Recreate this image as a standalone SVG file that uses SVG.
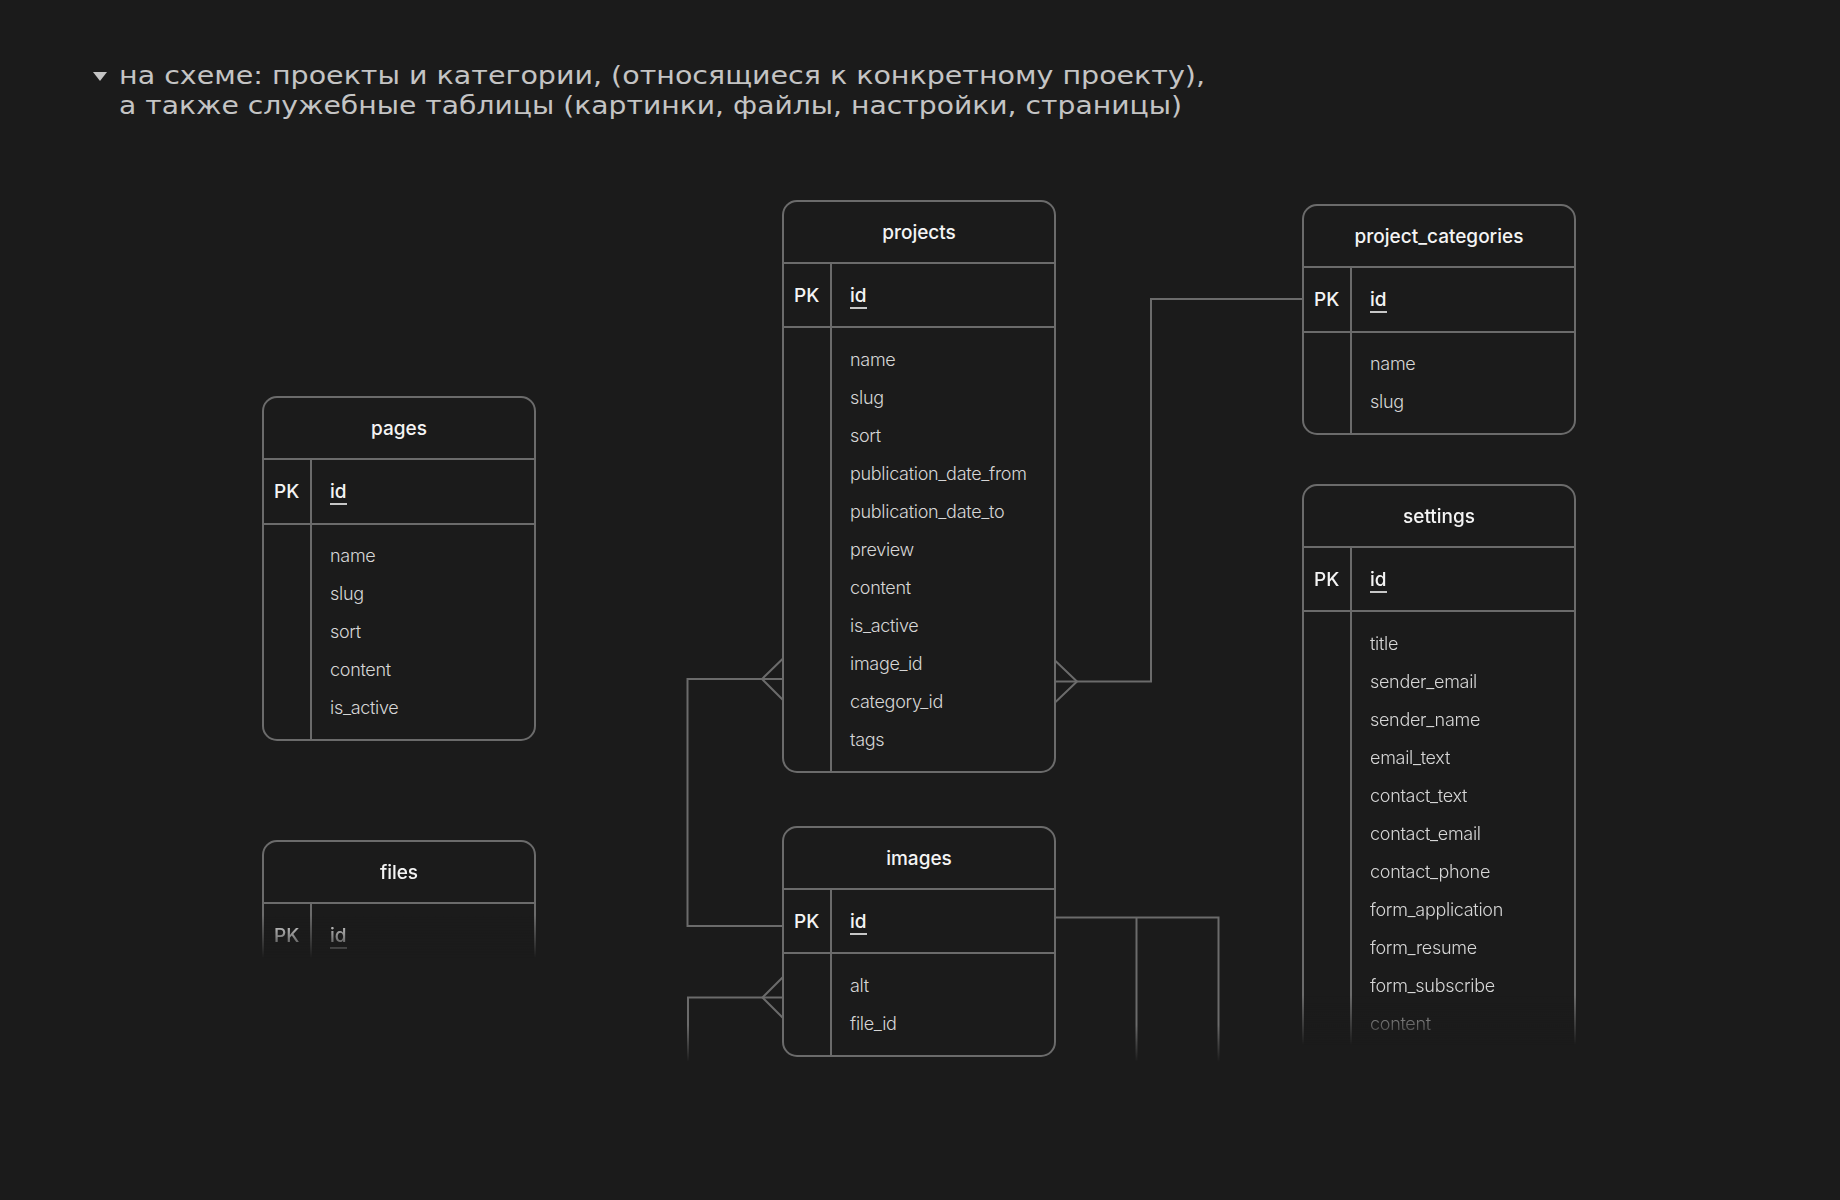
<svg xmlns="http://www.w3.org/2000/svg" width="1840" height="1200" viewBox="0 0 1840 1200">
<defs>
<style>
.box{fill:#1b1b1b;stroke:#6b6b6b;stroke-width:2}
.ln{stroke:#6b6b6b;stroke-width:2;fill:none}
.hd{font-family:Inter,"Noto Sans",sans-serif;font-size:19px;font-weight:500;fill:#f4f4f4;text-anchor:middle}
.pk{font-family:Inter,"Noto Sans",sans-serif;font-size:19px;font-weight:500;fill:#f4f4f4}
.fd{font-family:Inter,"Noto Sans",sans-serif;font-size:18px;font-weight:300;letter-spacing:-0.3px;fill:#d6d6d6}
.ul{stroke:#f4f4f4;stroke-width:1.6}
.title{font-family:"DejaVu Sans","Noto Sans",sans-serif;font-size:25.5px;fill:#c4c4c4}
</style>
<linearGradient id="gFiles" gradientUnits="userSpaceOnUse" x1="0" y1="915" x2="0" y2="958">
<stop offset="0" stop-color="#fff"/><stop offset="1" stop-color="#000"/>
</linearGradient>
<linearGradient id="gSet" gradientUnits="userSpaceOnUse" x1="0" y1="995" x2="0" y2="1045">
<stop offset="0" stop-color="#fff"/><stop offset="1" stop-color="#000"/>
</linearGradient>
<linearGradient id="gCon" gradientUnits="userSpaceOnUse" x1="0" y1="1025" x2="0" y2="1062">
<stop offset="0" stop-color="#fff"/><stop offset="1" stop-color="#000"/>
</linearGradient>
<mask id="mFiles" maskUnits="userSpaceOnUse" x="0" y="0" width="1840" height="1200"><rect x="0" y="0" width="1840" height="1200" fill="url(#gFiles)"/></mask>
<mask id="mSet" maskUnits="userSpaceOnUse" x="0" y="0" width="1840" height="1200"><rect x="0" y="0" width="1840" height="1200" fill="url(#gSet)"/></mask>
<mask id="mCon" maskUnits="userSpaceOnUse" x="0" y="0" width="1840" height="1200"><rect x="0" y="0" width="1840" height="1200" fill="url(#gCon)"/></mask>
</defs>
<rect x="0" y="0" width="1840" height="1200" fill="#1b1b1b"/>

<g id="heading">
<polygon points="93,72 107,72 100,81" fill="#c4c4c4"/>
<text class="title" x="119" y="83.5" textLength="1086" lengthAdjust="spacingAndGlyphs">на схеме: проекты и категории, (относящиеся к конкретному проекту),</text>
<text class="title" x="119" y="113.5" textLength="1063" lengthAdjust="spacingAndGlyphs">а также служебные таблицы (картинки, файлы, настройки, страницы)</text>
</g>

<g id="connectors" mask="url(#mCon)">
<polyline class="ln" points="1055,681.5 1151,681.5 1151,299 1303,299"/>
<polyline class="ln" points="1055,660.5 1077,681.5 1055,702.5"/>
<polyline class="ln" points="783,679 687.5,679 687.5,926 783,926"/>
<polyline class="ln" points="783,658.5 762,679 783,700"/>
<polyline class="ln" points="783,997.5 688,997.5 688,1075"/>
<polyline class="ln" points="783,977 762.5,997.5 783,1018"/>
<polyline class="ln" points="1055,917.5 1218.5,917.5 1218.5,1075"/>
<line class="ln" x1="1136.5" y1="917.5" x2="1136.5" y2="1075"/>
</g>

<g id="pages">
<rect class="box" x="263" y="397" width="272" height="343" rx="14"/>
<line class="ln" x1="263" y1="459" x2="535" y2="459"/>
<line class="ln" x1="263" y1="524" x2="535" y2="524"/>
<line class="ln" x1="311" y1="459" x2="311" y2="740"/>
<text class="hd" x="399" y="435">pages</text>
<text class="pk" x="274" y="498">PK</text>
<text class="pk" x="330" y="498">id</text>
<line class="ul" x1="330" y1="504" x2="347" y2="504"/>
<text class="fd" x="330" y="562">name</text>
<text class="fd" x="330" y="600">slug</text>
<text class="fd" x="330" y="638">sort</text>
<text class="fd" x="330" y="676">content</text>
<text class="fd" x="330" y="714">is_active</text>
</g>

<g id="files" mask="url(#mFiles)">
<rect class="box" x="263" y="841" width="272" height="160" rx="14"/>
<line class="ln" x1="263" y1="903" x2="535" y2="903"/>
<line class="ln" x1="311" y1="903" x2="311" y2="1001"/>
<text class="hd" x="399" y="879">files</text>
<text class="pk" x="274" y="942">PK</text>
<text class="pk" x="330" y="942">id</text>
<line class="ul" x1="330" y1="948" x2="347" y2="948"/>
</g>

<g id="projects">
<rect class="box" x="783" y="201" width="272" height="571" rx="14"/>
<line class="ln" x1="783" y1="263" x2="1055" y2="263"/>
<line class="ln" x1="783" y1="327" x2="1055" y2="327"/>
<line class="ln" x1="831" y1="263" x2="831" y2="772"/>
<text class="hd" x="919" y="239">projects</text>
<text class="pk" x="794" y="302">PK</text>
<text class="pk" x="850" y="302">id</text>
<line class="ul" x1="850" y1="308" x2="867" y2="308"/>
<text class="fd" x="850" y="366">name</text>
<text class="fd" x="850" y="404">slug</text>
<text class="fd" x="850" y="442">sort</text>
<text class="fd" x="850" y="480">publication_date_from</text>
<text class="fd" x="850" y="518">publication_date_to</text>
<text class="fd" x="850" y="556">preview</text>
<text class="fd" x="850" y="594">content</text>
<text class="fd" x="850" y="632">is_active</text>
<text class="fd" x="850" y="670">image_id</text>
<text class="fd" x="850" y="708">category_id</text>
<text class="fd" x="850" y="746">tags</text>
</g>

<g id="project_categories">
<rect class="box" x="1303" y="205" width="272" height="229" rx="14"/>
<line class="ln" x1="1303" y1="267" x2="1575" y2="267"/>
<line class="ln" x1="1303" y1="332" x2="1575" y2="332"/>
<line class="ln" x1="1351" y1="267" x2="1351" y2="434"/>
<text class="hd" x="1439" y="243">project_categories</text>
<text class="pk" x="1314" y="306">PK</text>
<text class="pk" x="1370" y="306">id</text>
<line class="ul" x1="1370" y1="312" x2="1387" y2="312"/>
<text class="fd" x="1370" y="370">name</text>
<text class="fd" x="1370" y="408">slug</text>
</g>

<g id="settings" mask="url(#mSet)">
<rect class="box" x="1303" y="485" width="272" height="600" rx="14"/>
<line class="ln" x1="1303" y1="547" x2="1575" y2="547"/>
<line class="ln" x1="1303" y1="611" x2="1575" y2="611"/>
<line class="ln" x1="1351" y1="547" x2="1351" y2="1085"/>
<text class="hd" x="1439" y="523">settings</text>
<text class="pk" x="1314" y="586">PK</text>
<text class="pk" x="1370" y="586">id</text>
<line class="ul" x1="1370" y1="592" x2="1387" y2="592"/>
<text class="fd" x="1370" y="650">title</text>
<text class="fd" x="1370" y="688">sender_email</text>
<text class="fd" x="1370" y="726">sender_name</text>
<text class="fd" x="1370" y="764">email_text</text>
<text class="fd" x="1370" y="802">contact_text</text>
<text class="fd" x="1370" y="840">contact_email</text>
<text class="fd" x="1370" y="878">contact_phone</text>
<text class="fd" x="1370" y="916">form_application</text>
<text class="fd" x="1370" y="954">form_resume</text>
<text class="fd" x="1370" y="992">form_subscribe</text>
<text class="fd" x="1370" y="1030">content</text>
</g>

<g id="images">
<rect class="box" x="783" y="827" width="272" height="229" rx="14"/>
<line class="ln" x1="783" y1="889" x2="1055" y2="889"/>
<line class="ln" x1="783" y1="953" x2="1055" y2="953"/>
<line class="ln" x1="831" y1="889" x2="831" y2="1056"/>
<text class="hd" x="919" y="865">images</text>
<text class="pk" x="794" y="928">PK</text>
<text class="pk" x="850" y="928">id</text>
<line class="ul" x1="850" y1="934" x2="867" y2="934"/>
<text class="fd" x="850" y="992">alt</text>
<text class="fd" x="850" y="1030">file_id</text>
</g>
</svg>
